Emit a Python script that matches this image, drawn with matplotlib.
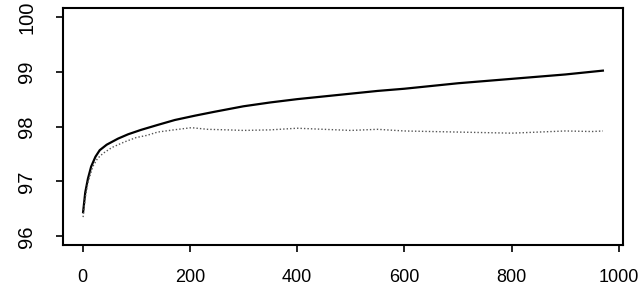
import matplotlib
matplotlib.use("Agg")
import matplotlib.pyplot as plt

plt.rcParams['font.family'] = ['Liberation Sans', 'DejaVu Sans']

# iterations
x_solid = [1, 5, 10, 16, 24, 32, 45, 66, 85, 109, 140, 172, 210, 246, 300, 350,
           400, 450, 500, 550, 600, 650, 700, 750, 800, 850, 900, 950, 970]
y_solid = [96.44, 96.8, 97.05, 97.27, 97.45, 97.57, 97.67, 97.78, 97.86, 97.94, 98.03,
           98.12, 98.2, 98.27, 98.37, 98.44, 98.5, 98.55, 98.6, 98.65, 98.69, 98.74,
           98.79, 98.83, 98.87, 98.91, 98.95, 99.0, 99.02]

x_dot = [1, 5, 10, 19, 28, 38, 55, 78, 100, 120, 140, 170, 203, 233, 270, 300, 350,
         400, 450, 500, 550, 600, 650, 700, 750, 800, 850, 900, 950, 970]
y_dot = [96.35, 96.7, 96.98, 97.27, 97.42, 97.51, 97.62, 97.72, 97.8, 97.84, 97.9,
         97.94, 97.98, 97.95, 97.94, 97.93, 97.94, 97.97, 97.95, 97.93, 97.95, 97.92,
         97.91, 97.9, 97.89, 97.88, 97.9, 97.92, 97.91, 97.92]

xticks = [0, 200, 400, 600, 800, 1000]
yticks = [96, 97, 98, 99, 100]

fig = plt.figure(figsize=(6.4, 2.89), dpi=100)
ax = fig.add_axes([0.098, 0.152, 0.875, 0.82])

ax.plot(x_solid, y_solid, color='black', lw=1.6)
ax.plot(x_dot, y_dot, color='#555555', lw=1.0, linestyle=(0, (1, 1.5)))

ax.set_xlim(-37, 1007)
ax.set_ylim(95.84, 100.16)
ax.set_xticks(xticks)
ax.set_yticks(yticks)
ax.set_xticklabels([str(v) for v in xticks], fontsize=13)
ax.set_yticklabels([str(v) for v in yticks], fontsize=14.5, rotation=90, va='center')
ax.tick_params(direction='out', length=5, width=1.2)
ax.tick_params(axis='x', pad=12)
ax.tick_params(axis='y', pad=14)

for s in ax.spines.values():
    s.set_linewidth(1.5)

fig.savefig('out.png', dpi=100)
